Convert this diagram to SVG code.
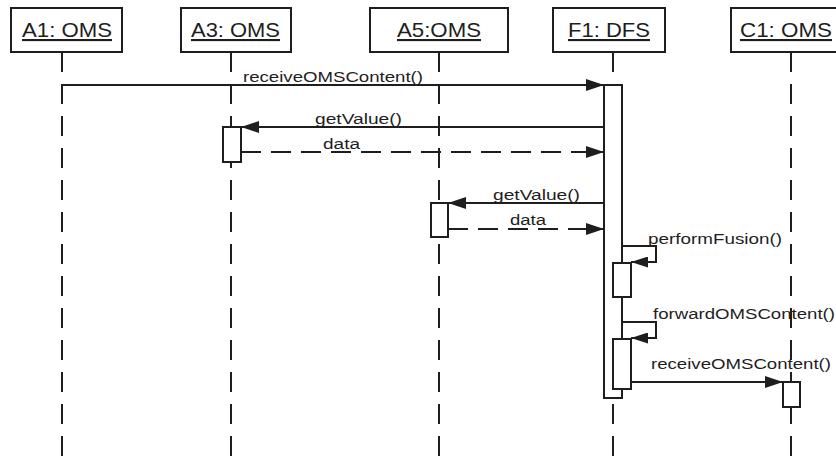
<svg xmlns="http://www.w3.org/2000/svg" width="836" height="462" viewBox="0 0 836 462">
<style>
.box{fill:#fff;stroke:#1e1e1e;stroke-width:2}
.life{stroke:#1e1e1e;stroke-width:2;stroke-dasharray:20 12;fill:none}
.act{fill:#fff;stroke:#1e1e1e;stroke-width:2}
.name{font-family:"Liberation Sans",Arial,sans-serif;font-size:21px;fill:#1e1e1e;text-decoration:underline}
.msg{stroke:#1e1e1e;stroke-width:2;fill:none}
.ret{stroke:#1e1e1e;stroke-width:2;fill:none;stroke-dasharray:20 10}
.lbl{font-family:"Liberation Sans",Arial,sans-serif;font-size:15.5px;fill:#1e1e1e}
</style>
<defs>
<marker id="arr" markerUnits="userSpaceOnUse" markerWidth="18" markerHeight="12" refX="18" refY="6" orient="auto">
<path d="M0,0 L18,6 L0,12 Z" fill="#1e1e1e"/>
</marker>
<marker id="arrs" markerUnits="userSpaceOnUse" markerWidth="17" markerHeight="11" refX="17" refY="5.5" orient="auto">
<path d="M0,0 L17,5.5 L0,11 Z" fill="#1e1e1e"/>
</marker>
</defs>
<rect width="836" height="462" fill="#fff"/>
<g id="A1">
<line class="life" x1="62" y1="52" x2="62" y2="462"/>
<rect class="box" x="11" y="8" width="111" height="44"/>
<text class="name" x="22" y="37" textLength="90" lengthAdjust="spacingAndGlyphs">A1: OMS</text>
</g>
<g id="A3">
<line class="life" x1="231" y1="52" x2="231" y2="462"/>
<rect class="box" x="181" y="8" width="110" height="44"/>
<text class="name" x="191" y="37" textLength="89" lengthAdjust="spacingAndGlyphs">A3: OMS</text>
<rect class="act" x="223" y="127" width="18" height="35"/>
</g>
<g id="A5">
<line class="life" x1="439" y1="52" x2="439" y2="462"/>
<rect class="box" x="370" y="8" width="138" height="44"/>
<text class="name" x="397" y="37" textLength="84" lengthAdjust="spacingAndGlyphs">A5:OMS</text>
<rect class="act" x="431" y="203" width="17" height="34"/>
</g>
<g id="F1">
<line class="life" x1="613" y1="52" x2="613" y2="462"/>
<rect class="box" x="553" y="8" width="112" height="44"/>
<text class="name" x="568" y="37" textLength="82" lengthAdjust="spacingAndGlyphs">F1: DFS</text>
<rect class="act" x="604" y="85" width="18" height="313"/>
<rect class="act" x="613" y="263" width="18" height="34"/>
<rect class="act" x="613" y="339" width="18" height="50"/>
</g>
<g id="C1">
<line class="life" x1="791" y1="52" x2="791" y2="462"/>
<rect class="box" x="731" y="8" width="120" height="44"/>
<text class="name" x="740" y="37" textLength="92" lengthAdjust="spacingAndGlyphs">C1: OMS</text>
<rect class="act" x="783" y="382" width="17" height="25"/>
</g>
<g id="connectors">
<line class="msg" x1="62" y1="85" x2="604" y2="85" marker-end="url(#arr)"/>
<text class="lbl" x="243" y="82" textLength="180" lengthAdjust="spacingAndGlyphs">receiveOMSContent()</text>
<line class="msg" x1="604" y1="127" x2="241" y2="127" marker-end="url(#arr)"/>
<text class="lbl" x="315" y="124" textLength="87" lengthAdjust="spacingAndGlyphs">getValue()</text>
<line class="ret" x1="241" y1="152" x2="604" y2="152" marker-end="url(#arr)"/>
<text class="lbl" x="323" y="149" textLength="37" lengthAdjust="spacingAndGlyphs">data</text>
<line class="msg" x1="604" y1="203" x2="448" y2="203" marker-end="url(#arr)"/>
<text class="lbl" x="493" y="200" textLength="87" lengthAdjust="spacingAndGlyphs">getValue()</text>
<line class="ret" x1="448" y1="229" x2="604" y2="229" marker-end="url(#arr)"/>
<text class="lbl" x="510" y="225" textLength="36" lengthAdjust="spacingAndGlyphs">data</text>
<path class="msg" d="M622,246 H656 V262 H631" marker-end="url(#arrs)"/>
<text class="lbl" x="648" y="244" textLength="134" lengthAdjust="spacingAndGlyphs">performFusion()</text>
<path class="msg" d="M622,322 H656 V338 H631" marker-end="url(#arrs)"/>
<text class="lbl" x="653" y="319" textLength="182" lengthAdjust="spacingAndGlyphs">forwardOMSContent()</text>
<line class="msg" x1="631" y1="382" x2="783" y2="382" marker-end="url(#arr)"/>
<text class="lbl" x="651" y="369" textLength="180" lengthAdjust="spacingAndGlyphs">receiveOMSContent()</text>
</g>
</svg>
